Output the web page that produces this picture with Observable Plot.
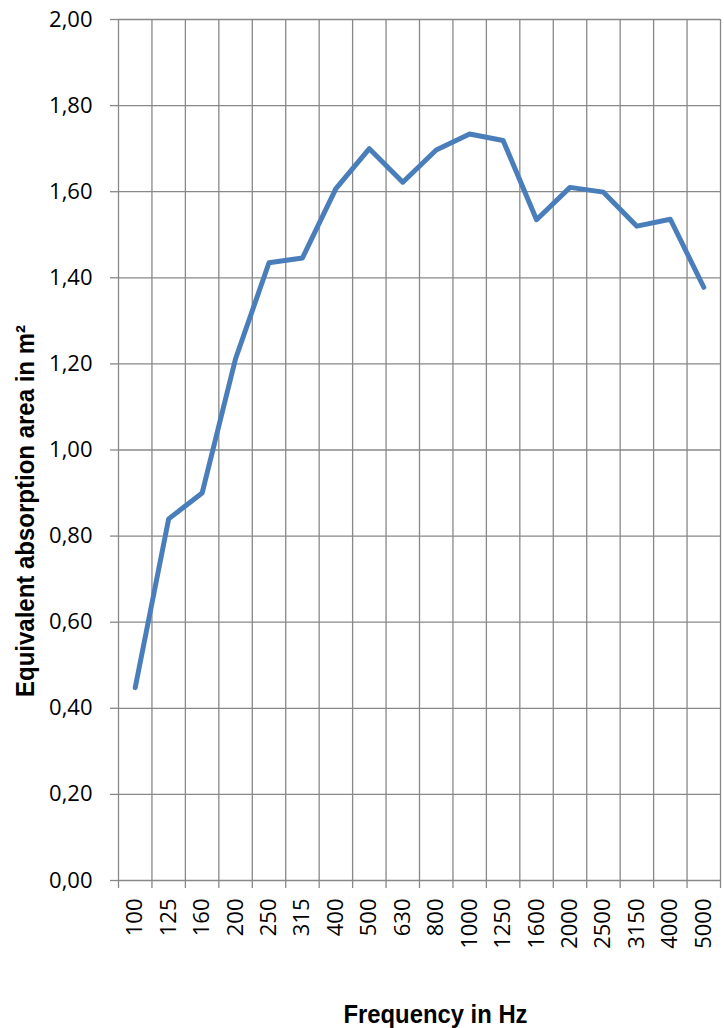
<!DOCTYPE html>
<html>
<head>
<meta charset="utf-8">
<script src="https://cdn.jsdelivr.net/npm/d3@7"></script>
<script src="https://cdn.jsdelivr.net/npm/@observablehq/plot@0.6"></script>
<style>
  body { margin: 0; background: #ffffff; }
  #chart svg { display: block; }
</style>
</head>
<body>
<div id="chart"></div>
<script>
// Data
const frequencies = ["100", "125", "160", "200", "250", "315", "400", "500", "630", "800",
                     "1000", "1250", "1600", "2000", "2500", "3150", "4000", "5000"];
const absorption = [0.448, 0.840, 0.900, 1.212, 1.435, 1.446, 1.607, 1.700, 1.622, 1.697,
                    1.734, 1.719, 1.535, 1.610, 1.599, 1.520, 1.536, 1.378];
const yTicks = [0, 0.2, 0.4, 0.6, 0.8, 1.0, 1.2, 1.4, 1.6, 1.8, 2.0];
const xTitle = "Frequency in Hz";
const yTitle = "Equivalent absorption area in m²";

const n = frequencies.length;
const bandEdges = d3.range(n + 1);
const bandCenters = d3.range(n).map(i => i + 0.5);
const rows = frequencies.map((f, i) => ({ f, pos: i + 0.5, v: absorption[i] }));

const tickFont = "'Open Sans', sans-serif";
const titleFont = "'Liberation Sans', Arial, sans-serif";
const gridColor = "#888888";

const chart = Plot.plot({
  width: 724,
  height: 1028,
  marginLeft: 118,
  marginRight: 4,
  marginTop: 19,
  marginBottom: 148,
  style: { fontFamily: tickFont, background: "#ffffff", color: "#000000" },
  x: { type: "linear", domain: [0, n] },
  y: { domain: [0, 2] },
  marks: [
    Plot.gridX(bandEdges, { stroke: gridColor, strokeOpacity: 1, strokeWidth: 1.3 }),
    Plot.gridY(yTicks, { stroke: gridColor, strokeOpacity: 1, strokeWidth: 1.3 }),
    Plot.axisX(bandEdges, { tickSize: 8, stroke: gridColor, strokeWidth: 1.3, tickFormat: () => "", label: null }),
    Plot.axisX(bandCenters, {
      tickSize: 0, tickPadding: 18, tickRotate: -90,
      tickFormat: p => frequencies[p - 0.5],
      fontSize: 22, fill: "#000000", label: null
    }),
    Plot.axisY(yTicks, {
      tickSize: 8, tickPadding: 18, stroke: gridColor, strokeWidth: 1.3,
      tickFormat: d => d.toFixed(2).replace(".", ","),
      fontSize: 22, fill: "#000000", label: null
    }),
    Plot.line(rows, {
      x: "pos", y: "v",
      stroke: "#4a7ebb", strokeWidth: 5,
      strokeLinecap: "round", strokeLinejoin: "round"
    }),
    Plot.text([xTitle], {
      text: d => d, frameAnchor: "bottom", textAnchor: "middle", lineAnchor: "middle",
      dx: 16, dy: 134,
      fontSize: 25.5, fontWeight: "bold", fontFamily: titleFont, fill: "#000000"
    }),
    Plot.text([yTitle], {
      text: d => d, frameAnchor: "left", textAnchor: "middle", lineAnchor: "middle",
      rotate: -90, dx: -93, dy: 61,
      fontSize: 25.5, fontWeight: "bold", fontFamily: titleFont, fill: "#000000"
    })
  ]
});

// Condense the bold titles to match the narrow face of the reference
const titleLengths = new Map([[xTitle, 184], [yTitle, 372]]);
chart.querySelectorAll("text").forEach(t => {
  const len = titleLengths.get(t.textContent);
  if (len) {
    t.setAttribute("textLength", len);
    t.setAttribute("lengthAdjust", "spacingAndGlyphs");
  }
});

document.getElementById("chart").appendChild(chart);
</script>
</body>
</html>
